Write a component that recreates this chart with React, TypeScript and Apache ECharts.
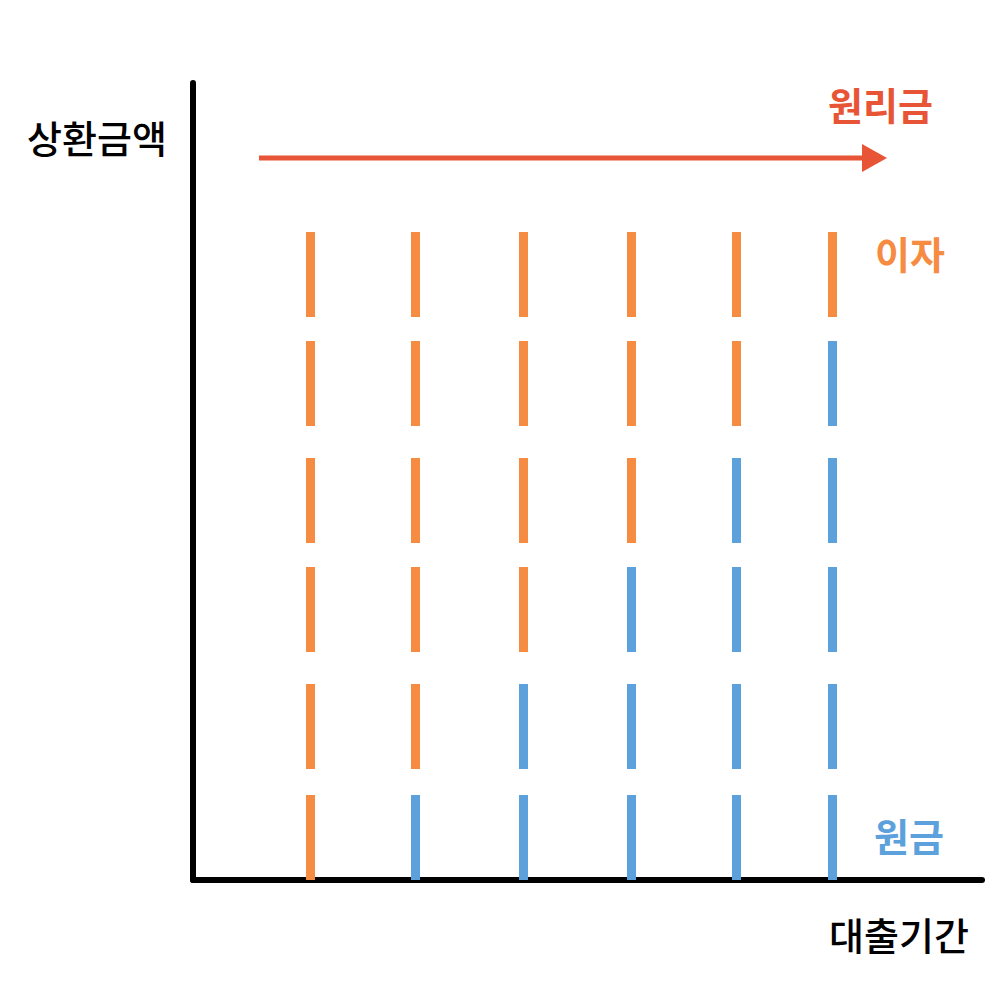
import React, { useEffect, useRef } from "react";
import * as echarts from "echarts";

// Column positions along the loan period axis (axis units)
const periodPositions = [117.5, 222.5, 330.5, 438.5, 543.5, 639.5];
// Repayment segments per column, from bottom (start, end) in axis units
const segmentStarts = [0, 111, 228, 337, 454, 563];
const segmentEnds = [85, 196, 313, 422, 539, 648];
// Number of principal (blue) segments in each column
const principalCounts = [0, 1, 2, 3, 4, 5];
// Arrow: [xStart, xEnd, y]
const arrowData = [[66, 694, 722]];

const ORANGE = "#F68C42";
const BLUE = "#5DA1DC";
const RED = "#E85536";
const FONT = "'Noto Sans CJK KR', 'Noto Sans', sans-serif";

export default function App() {
  const ref = useRef<HTMLDivElement>(null);
  useEffect(() => {
    document.body.style.margin = "0";
    if (!ref.current) return;
    const chart = echarts.init(ref.current, null, { renderer: "svg" });

    const segData: number[][] = [];
    periodPositions.forEach((x, i) => {
      segmentStarts.forEach((s, j) => {
        segData.push([x, s, segmentEnds[j], j < principalCounts[i] ? 1 : 0]);
      });
    });

    chart.setOption({
      animation: false,
      backgroundColor: "#ffffff",
      grid: { left: 193, top: 83, width: 789, height: 797 },
      xAxis: {
        type: "value",
        min: 0,
        max: 789,
        axisLine: { show: true, onZero: false, lineStyle: { color: "#000", width: 6 } },
        axisTick: { show: false },
        axisLabel: { show: false },
        splitLine: { show: false },
      },
      yAxis: {
        type: "value",
        min: 0,
        max: 797,
        axisLine: { show: true, onZero: false, lineStyle: { color: "#000", width: 6 } },
        axisTick: { show: false },
        axisLabel: { show: false },
        splitLine: { show: false },
      },
      series: [
        {
          type: "custom",
          data: segData,
          renderItem: (params: any, api: any) => {
            const x = api.value(0);
            const p0 = api.coord([x, api.value(1)]);
            const p1 = api.coord([x, api.value(2)]);
            const w = 9;
            return {
              type: "rect",
              shape: { x: p0[0] - w / 2, y: p1[1], width: w, height: p0[1] - p1[1] },
              style: { fill: api.value(3) === 1 ? BLUE : ORANGE },
            };
          },
        },
        {
          type: "custom",
          data: arrowData,
          renderItem: (params: any, api: any) => {
            const y = api.value(2);
            const a = api.coord([api.value(0), y]);
            const b = api.coord([api.value(1), y]);
            const headLen = 25;
            const half = 14;
            return {
              type: "group",
              children: [
                {
                  type: "line",
                  shape: { x1: a[0], y1: a[1], x2: b[0] - headLen + 1, y2: b[1] },
                  style: { stroke: RED, lineWidth: 5 },
                },
                {
                  type: "polygon",
                  shape: {
                    points: [
                      [b[0], b[1]],
                      [b[0] - headLen, b[1] - half],
                      [b[0] - headLen, b[1] + half],
                    ],
                  },
                  style: { fill: RED },
                },
              ],
            };
          },
        },
      ],
      graphic: [
        {
          type: "text",
          left: 27,
          top: 117,
          style: { text: "상환금액", fill: "#000", font: `500 38px ${FONT}` },
        },
        {
          type: "text",
          left: 828,
          top: 84,
          style: { text: "원리금", fill: RED, font: `bold 38px ${FONT}` },
        },
        {
          type: "text",
          left: 875,
          top: 233,
          style: { text: "이자", fill: ORANGE, font: `bold 38px ${FONT}` },
        },
        {
          type: "text",
          left: 874,
          top: 815,
          style: { text: "원금", fill: BLUE, font: `bold 38px ${FONT}` },
        },
        {
          type: "text",
          left: 829,
          top: 914,
          style: { text: "대출기간", fill: "#000", font: `500 38px ${FONT}` },
        },
      ],
    });
    return () => chart.dispose();
  }, []);
  return <div ref={ref} style={{ width: 1000, height: 1000 }} />;
}
